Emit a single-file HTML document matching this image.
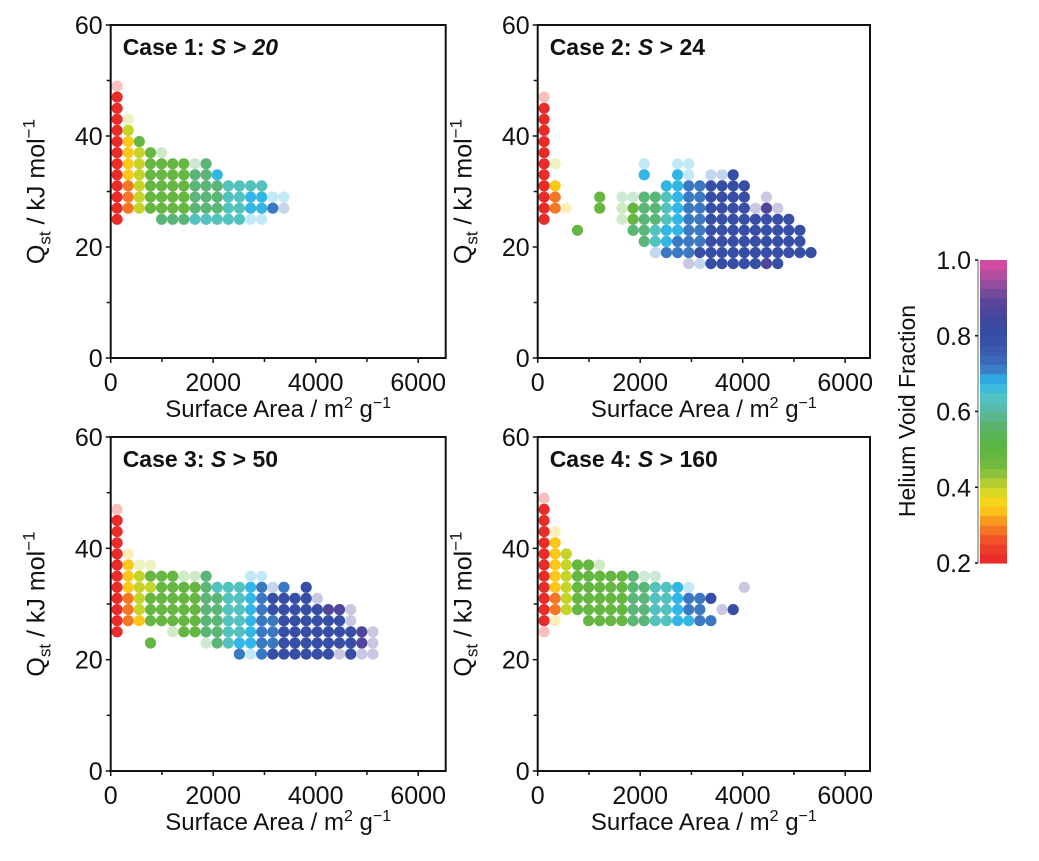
<!DOCTYPE html>
<html><head><meta charset="utf-8">
<style>
body{margin:0;background:#fff;}
svg{display:block;font-family:"Liberation Sans",Arial,sans-serif;}
</style></head>
<body>
<svg id="chart" width="1039" height="861" viewBox="0 0 1039 861"></svg>
<script>
// ---- data ----
const saBins = [125,342,559,776,993,1210,1427,1644,1861,2078,2295,2512,2729,2946,3163,3380,3597,3814,4031,4248,4465,4682,4899,5116,5333];
const codeLetters = ['R','O','Y','L','G','T','C','S','B','N','P'];
const codeVoid    = [0.21,0.29,0.345,0.40,0.48,0.57,0.63,0.675,0.72,0.80,0.87];

const case1Q = [49,47,45,43,41,39,37,35,33,31,29,27,25];
const case1Rows = ["r","R","R","Rl","RL","RYG","RYLGg","RYLGGGGtT","RYLGGGGTTS","ROLGGGGTTTCCCC","ROLGGGGTTTCCSSss","ROLGGGGTTTCCSSBb","R...TTTCCCCCss"];

const case2Q = [47,45,43,41,39,37,35,33,31,29,27,25,23,21,19,17];
const case2Rows = ["r","R","R","R","R","R","Rl.......s..ss","R........S..Ss.bbN","RY.........SSBBNNNN","RO...G.ttTTCSBBNNNN.p","ROy..G.gGTTCSBBNNNNpPp","R......gGTTCSBBNNNNNNNN","...G....TTCSSBBNNNNNNNNN",".........TCSBBBNNNNNNNNN","..........bBBBNNNNNNNNNNN",".............pbNNNNNPN"];

const case3Q = [47,45,43,41,39,37,35,33,31,29,27,25,23,21];
const case3Rows = ["r","R","R","R","Ry","RYll","RYLGGGggT...ss","RYLLGGGGTCCCSBbB.N","ROLGGGGGTTCCSBNNNNp","ROLGGGGGTTCCSBNNNNNPPp","ROYGGGGGTTCCSBBNNNNNNp","R....gGGTTCCSBBNNNNNNNPp","...G....tTCSSBBNNNNNNNPp","...........BsBNNNNNNpNpp"];

const case4Q = [49,47,45,43,41,39,37,35,33,31,29,27,25];
const case4Rows = ["r","R","R","Ry","RY","RYL","RYLGGg","RYLGGGGGTtt","RYLGGGGGTTCCSs....p","ROLGGGGGTTCCSBBN","ROLGGGGGTTCCSBB.pN","Ry..GGGGTTCCSSBB","r"];

const xTicks = [0,2000,4000,6000];
const xMinor = [1000,3000,5000];
const yTicks = [0,20,40,60];
const yMinor = [10,30,50];
const cbTicks = [0.2,0.4,0.6,0.8,1.0];

const stopV = [0.20,0.25,0.28,0.31,0.34,0.37,0.40,0.43,0.47,0.52,0.56,0.60,0.64,0.68,0.71,0.75,0.82,0.88,0.92,0.96,1.00];
const stopC = ['#e8262a','#ee4328','#f26a26','#f7941e','#fdc418','#f0dc1c','#c6d42a','#94c43a','#68b840','#58b444','#5ab46a','#5ab8a0','#50c4c8','#2cb4ea','#3a80c8','#3a5eb0','#3448a0','#54449a','#7a4c9a','#b04e9e','#e04aa4'];

// ---- helpers ----
const NS = 'http://www.w3.org/2000/svg';
const svg = document.getElementById('chart');
function mk(tag, attrs, parent){const e=document.createElementNS(NS,tag);for(const k in attrs)e.setAttribute(k,attrs[k]);(parent||svg).appendChild(e);return e;}
function hex(h){return [parseInt(h.slice(1,3),16),parseInt(h.slice(3,5),16),parseInt(h.slice(5,7),16)];}
function colorFor(v){
  if(v<=stopV[0])return stopC[0];
  for(let i=1;i<stopV.length;i++){
    if(v<=stopV[i]){const t=(v-stopV[i-1])/(stopV[i]-stopV[i-1]);const a=hex(stopC[i-1]),b=hex(stopC[i]);
      return 'rgb('+a.map((c,j)=>Math.round(c+(b[j]-c)*t)).join(',')+')';}
  }
  return stopC[stopC.length-1];
}

const panels = [
  {name:'case-1',L:110.7,T:25,R:445.7,B:358,q:case1Q,rows:case1Rows,label:['Case 1: ','S > 20'],allItalic:true},
  {name:'case-2',L:537.7,T:25,R:870,B:358,q:case2Q,rows:case2Rows,label:['Case 2: ','S',' > 24'],allItalic:false},
  {name:'case-3',L:110.7,T:437,R:445.7,B:771,q:case3Q,rows:case3Rows,label:['Case 3: ','S',' > 50'],allItalic:false},
  {name:'case-4',L:537.7,T:437,R:870,B:771,q:case4Q,rows:case4Rows,label:['Case 4: ','S',' > 160'],allItalic:false}
];

panels.forEach(p=>{
  const g = mk('g',{});
  
  
  const xs = v=>p.L+v*0.05125;
  const ys = q=>p.B-q*(p.B-p.T)/60;
  // points
  const pg = mk('g',{},g);
  
  
  p.rows.forEach((row,ri)=>{
    const q = p.q[ri];
    for(let ci=0;ci<row.length;ci++){
      const ch=row[ci]; if(ch==='.')continue;
      const idx=codeLetters.indexOf(ch.toUpperCase());
      const faded = ch!==ch.toUpperCase();
      const c = mk('circle',{cx:xs(saBins[ci]).toFixed(1),cy:ys(q).toFixed(1),r:5.6,fill:colorFor(codeVoid[idx]),'fill-opacity':faded?0.3:1},pg);
      
      
    }
  });
  // frame
  const fr = mk('rect',{x:p.L,y:p.T,width:p.R-p.L,height:p.B-p.T,fill:'none',stroke:'#111','stroke-width':2},g);
  
  
  // ticks
  xTicks.forEach(v=>{
    mk('line',{x1:xs(v),x2:xs(v),y1:p.B,y2:p.B+5,stroke:'#111','stroke-width':1.5},g);
    const t=mk('text',{x:xs(v),y:p.B+33,'font-size':25,'text-anchor':'middle',fill:'#111'},g);
    t.textContent=v;
    
    
  });
  xMinor.forEach(v=>mk('line',{x1:xs(v),x2:xs(v),y1:p.B,y2:p.B+4,stroke:'#111','stroke-width':1.5},g));
  yTicks.forEach(v=>{
    mk('line',{x1:p.L-5,x2:p.L,y1:ys(v),y2:ys(v),stroke:'#111','stroke-width':1.5},g);
    const t=mk('text',{x:p.L-8,y:ys(v)+9,'font-size':25,'text-anchor':'end',fill:'#111'},g);
    t.textContent=v;
    
    
  });
  yMinor.forEach(v=>mk('line',{x1:p.L-4,x2:p.L,y1:ys(v),y2:ys(v),stroke:'#111','stroke-width':1.5},g));
  // axis titles
  const xt=mk('text',{x:(p.L+p.R)/2,y:p.B+59,'font-size':24,'text-anchor':'middle',fill:'#111'},g);
  xt.innerHTML='Surface Area / m<tspan dy="-9" font-size="16">2</tspan><tspan dy="9"> g</tspan><tspan dy="-9" font-size="16">−1</tspan>';
  
  
  const cy=(p.T+p.B)/2, cx=p.L-66;
  const yt=mk('text',{x:cx,y:cy,'font-size':25,'text-anchor':'middle',fill:'#111',transform:'rotate(-90 '+cx+' '+cy+')'},g);
  yt.innerHTML='Q<tspan dy="6" font-size="17">st</tspan><tspan dy="-6"> / kJ mol</tspan><tspan dy="-10" font-size="17">−1</tspan>';
  
  
  // case label
  const lt=mk('text',{x:p.L+12,y:p.T+30,'font-size':23,'font-weight':'bold',fill:'#111'},g);
  if(p.allItalic){lt.innerHTML=p.label[0]+'<tspan font-style="italic">'+p.label[1]+'</tspan>';}
  else{lt.innerHTML=p.label[0]+'<tspan font-style="italic">'+p.label[1]+'</tspan>'+p.label[2];}
  
  
});

// colorbar
const cb = mk('g',{});


const cbL=980, cbR=1007, cbT=260, cbB=563;
const cbY = v=>cbB-(v-0.2)/0.8*(cbB-cbT);
for(let i=0;i<32;i++){
  const v0=0.2+i*0.025, v1=v0+0.025;
  mk('rect',{x:cbL,y:cbY(v1),width:cbR-cbL,height:cbY(v0)-cbY(v1)+0.6,fill:colorFor(v0+0.0125)},cb);
}
mk('line',{x1:978,x2:978,y1:cbT,y2:cbB,stroke:'#999','stroke-width':1.5},cb);
cbTicks.forEach(v=>{
  mk('line',{x1:975,x2:978,y1:cbY(v),y2:cbY(v),stroke:'#111','stroke-width':1.5},cb);
  const t=mk('text',{x:971,y:cbY(v)+9,'font-size':25,'text-anchor':'end',fill:'#111'},cb);
  t.textContent=v.toFixed(1);
  
  
});
const ct=mk('text',{x:915,y:411,'font-size':23,'text-anchor':'middle',fill:'#111',transform:'rotate(-90 915 411)'},cb);
ct.textContent='Helium Void Fraction';


</script>
</body></html>
